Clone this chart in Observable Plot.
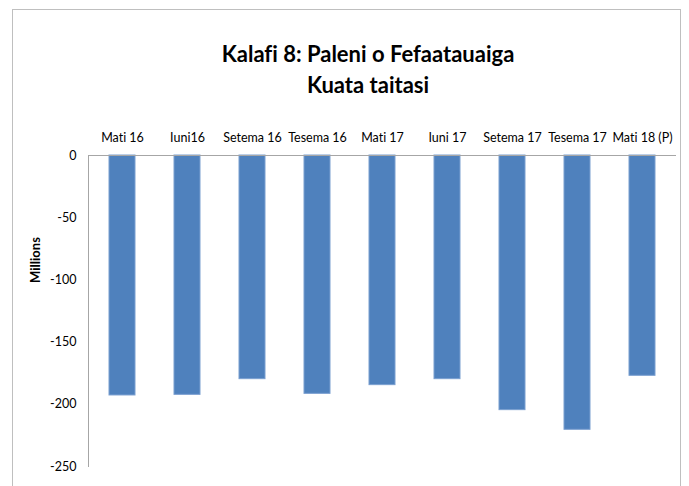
<!DOCTYPE html>
<html>
<head>
<meta charset="utf-8">
<script src="https://cdn.jsdelivr.net/npm/d3@7"></script>
<script src="https://cdn.jsdelivr.net/npm/@observablehq/plot@0.6"></script>
<style>
  html, body { margin: 0; padding: 0; background: #fff; }
  #wrap { position: relative; width: 689px; height: 486px; overflow: hidden; font-family: Lato, "Open Sans", sans-serif; font-variant-ligatures: none; }
  #frame { position: absolute; left: 12px; top: 9px; width: 669px; height: 500px; border: 1px solid #bfbfbf; box-sizing: border-box; }
  #title { position: absolute; left: 0; top: 38px; width: 736px; text-align: center; font-weight: bold; font-size: 22px; line-height: 31px; color: #000; }
  #chart { position: absolute; left: 0; top: 0; }
  #chart svg { font-family: Lato, "Open Sans", sans-serif; font-variant-ligatures: none; }
</style>
</head>
<body>
<div id="wrap">
  <div id="frame"></div>
  <div id="title">Kalafi 8: Paleni o Fefaatauaiga<br>Kuata taitasi</div>
  <div id="chart"></div>
</div>
<script>
const categories = ["Mati 16", "Iuni16", "Setema 16", "Tesema 16", "Mati 17", "Iuni 17", "Setema 17", "Tesema 17", "Mati 18 (P)"];
const values = [-192.9, -192.4, -179.8, -191.6, -184.6, -179.8, -204.7, -220.5, -177.1];
const yTicks = [0, -50, -100, -150, -200, -250];
const yLabel = "Millions";

const data = categories.map((c, i) => ({category: c, value: values[i]}));

const plot = Plot.plot({
  width: 689,
  height: 486,
  marginTop: 155,
  marginLeft: 88,
  marginRight: 13,
  marginBottom: 20,
  style: {fontSize: "12px", color: "#000", background: "transparent"},
  x: {domain: categories, paddingInner: 0.6, paddingOuter: 0.3, axis: null},
  y: {domain: [-250, 0], axis: null},
  marks: [
    Plot.barY(data, {x: "category", y: "value", fill: "#4f81bd", stroke: "#7a9fd0", strokeWidth: 1}),
    Plot.ruleY([0], {stroke: "#a6a6a6", strokeWidth: 1}),
    Plot.axisX({anchor: "top", tickSize: 0, tickPadding: 14, label: null, fontSize: 12.5}),
    Plot.axisY({ticks: yTicks, tickSize: 0, tickPadding: 12, tickFormat: d => d === 0 ? "0" : String(d).replace("−", "-"), label: null, fontSize: 12.5}),
    Plot.text([yLabel], {frameAnchor: "left", y: () => -84, dx: -53, rotate: -90, textAnchor: "middle", text: d => d, fontWeight: "bold", fontSize: 13}),
    Plot.frame({anchor: "left", stroke: "#a6a6a6"})
  ]
});
document.getElementById("chart").appendChild(plot);
</script>
</body>
</html>
